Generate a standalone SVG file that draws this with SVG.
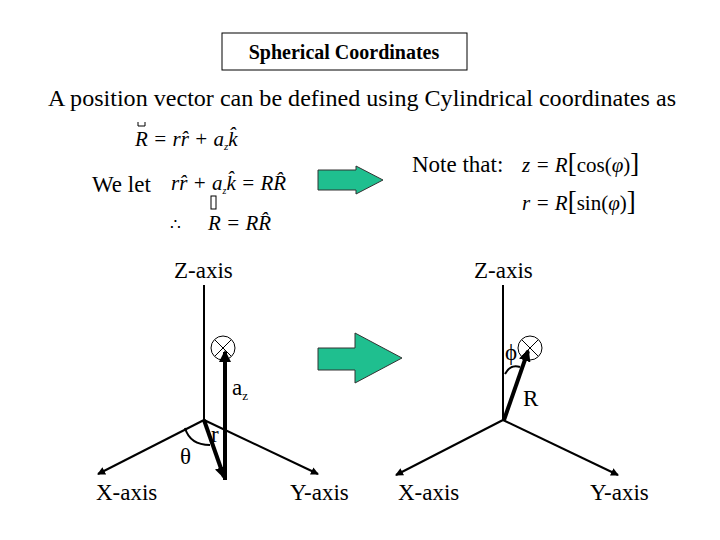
<svg xmlns="http://www.w3.org/2000/svg" width="720" height="540" viewBox="0 0 720 540" font-family="'Liberation Serif', 'Times New Roman', serif">
<style>
text{font-family:'Liberation Serif','Times New Roman',serif;fill:#000}
.t{font-size:23px}
.m{font-style:italic;font-size:21px}
.ax{stroke:#000;stroke-width:2;fill:none}
.th{stroke:#000;stroke-width:4;fill:none}
.g{fill:#1fbf8f;stroke:#333;stroke-width:1}
</style>
<defs>
<marker id="a" markerWidth="8" markerHeight="8" refX="7" refY="4" orient="auto" markerUnits="userSpaceOnUse"><path d="M0,0 L8,4 L0,8z" fill="#000"/></marker>
<marker id="b" markerWidth="12" markerHeight="12" refX="10" refY="6" orient="auto" markerUnits="userSpaceOnUse"><path d="M0,0 L12,6 L0,12z" fill="#000"/></marker>
</defs>
<g id="title"><rect x="222" y="33" width="245" height="37" fill="#fff" stroke="#000"/><text x="344" y="59" text-anchor="middle" font-weight="bold" font-size="20">Spherical Coordinates</text></g>
<g id="intro"><text class="t" x="48" y="106" textLength="628" lengthAdjust="spacingAndGlyphs">A position vector can be defined using Cylindrical coordinates as</text></g>
<g id="eq1"><text class="m" x="135" y="146">R = rr̂ + a<tspan font-size="11" dy="4">z</tspan><tspan dy="-4">k̂</tspan></text>
<path d="M138,122 V126 H145 V122" fill="none" stroke="#000" stroke-width="1"/></g>
<g id="welet"><text class="t" x="92" y="192">We let</text>
<text class="m" font-size="17" x="171" y="190">rr̂ + a<tspan font-size="10" dy="4">z</tspan><tspan dy="-4">k̂ = RR̂</tspan></text>
<rect x="211" y="196" width="5" height="13" fill="none" stroke="#000" stroke-width="1"/>
<text font-size="17" x="170" y="230">∴</text><text class="m" font-size="17" x="208" y="230">R = RR̂</text></g>
<g id="note"><text class="t" x="412" y="172">Note that:</text>
<text class="m" x="522" y="172">z = R<tspan font-style="normal" font-size="27">[</tspan><tspan font-style="normal">cos(</tspan>φ<tspan font-style="normal">)</tspan><tspan font-style="normal" font-size="27">]</tspan></text>
<text class="m" x="522" y="210">r = R<tspan font-style="normal" font-size="27">[</tspan><tspan font-style="normal">sin(</tspan>φ<tspan font-style="normal">)</tspan><tspan font-style="normal" font-size="27">]</tspan></text></g>
<g id="arrow1"><path class="g" d="M318,170 H356 V166 L383,180 L356,194 V190 H318z"/></g>
<g id="arrow2"><path class="g" d="M318,348 H355 V333 L402,358 L355,383 V370 H318z"/></g>
<g id="left">
<text class="t" x="174" y="278">Z-axis</text>
<circle cx="223" cy="348" r="12" fill="#fff" stroke="#000"/>
<path d="M215,340 L231,356 M231,340 L215,356" stroke="#000"/>
<text class="t" x="96" y="500">X-axis</text><text class="t" x="290" y="500">Y-axis</text>
<text class="t" x="232" y="395">a<tspan font-size="13" dy="5">z</tspan></text>
<text class="t" x="211" y="442">r</text><text class="t" x="180" y="464">θ</text>
</g>
<g id="right">
<text class="t" x="474" y="278">Z-axis</text>
<circle cx="530" cy="348" r="12" fill="#fff" stroke="#000"/>
<path d="M522,340 L538,356 M538,340 L522,356" stroke="#000"/>
<text class="t" x="398" y="500">X-axis</text><text class="t" x="590" y="500">Y-axis</text>
<text class="t" x="505" y="360">ϕ</text><text class="t" x="523" y="406">R</text>
</g>
<g id="connectors">
<line class="ax" x1="204" y1="285" x2="204" y2="420"/>
<line class="ax" x1="204" y1="420" x2="98" y2="474" marker-end="url(#a)"/>
<line class="ax" x1="204" y1="420" x2="318" y2="474" marker-end="url(#a)"/>
<line class="th" x1="225" y1="480" x2="225" y2="352" marker-end="url(#b)"/>
<line class="th" x1="204" y1="420" x2="224" y2="477" marker-end="url(#b)"/>
<path class="ax" d="M185,428 Q190,445 210,445"/>
<line class="ax" x1="503" y1="285" x2="503" y2="420" stroke-width="1.5"/>
<line class="ax" x1="503" y1="420" x2="396" y2="475" marker-end="url(#a)"/>
<line class="ax" x1="503" y1="420" x2="618" y2="475" marker-end="url(#a)"/>
<line class="th" x1="504" y1="420" x2="528" y2="351" marker-end="url(#b)"/>
<path class="ax" d="M505,374 Q510,364 520,367"/>
</g>
</svg>
